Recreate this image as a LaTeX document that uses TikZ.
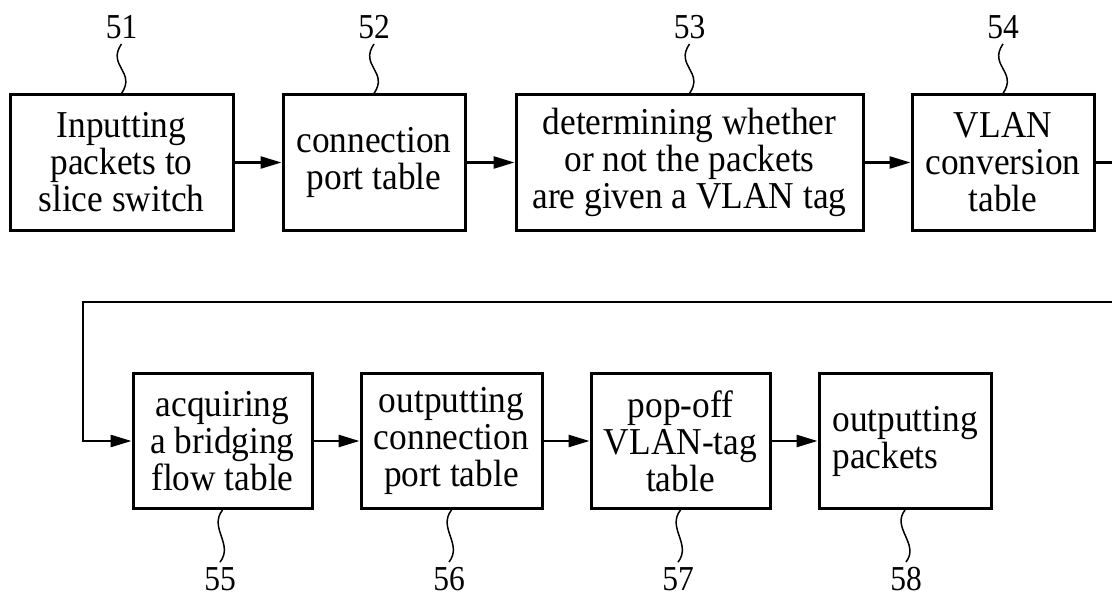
\documentclass[tikz,border=0pt]{standalone}
\usepackage{fontspec}
\setmainfont{Liberation Serif}
\newfontfamily\boxfont{Liberation Serif}[FakeStretch=0.93]
\newfontfamily\numfont{Liberation Serif}[FakeStretch=0.9]
\usetikzlibrary{arrows.meta}
\begin{document}
\begin{tikzpicture}[x=1pt,y=-1pt,
  stepbox/.style={draw, line width=3pt, inner sep=0pt, minimum height=135pt,
    align=center, font=\boxfont\fontsize{38}{37}\selectfont},
  reflabel/.style={inner sep=5pt, font=\numfont\fontsize{35}{36}\selectfont},
  flow/.style={line width=2.5pt, -{Triangle[length=21pt,width=12pt]}},
  wire/.style={line width=2.5pt},
  lead/.style={line width=1.5pt},
]
\useasboundingbox (0,0) rectangle (1112,599);

% upper row
\node[stepbox, minimum width=223pt] (b51) at (121.5,162.5) {Inputting\\packets to\\slice switch};
\node[stepbox, minimum width=182pt] (b52) at (374,162.5) {connection\\port table};
\node[stepbox, minimum width=347pt] (b53) at (689.5,162.5) {determining whether\\or not the packets\\are given a VLAN tag};
\node[stepbox, minimum width=182pt] (b54) at (1003,162.5) {VLAN\\conversion\\table};

% lower row
\node[stepbox, minimum width=179pt] (b55) at (222.5,441) {acquiring\\a bridging\\flow table};
\node[stepbox, minimum width=181pt] (b56) at (451.5,441) {outputting\\connection\\port table};
\node[stepbox, minimum width=179pt] (b57) at (680.5,441) {pop-off\\VLAN-tag\\table};
\node[stepbox, minimum width=172pt, align=left] (b58) at (905,441) {outputting\\packets};

% reference numerals
\node[reflabel] (l51) at (121.5,27) {51};
\node[reflabel] (l52) at (374,27) {52};
\node[reflabel] (l53) at (689.5,27) {53};
\node[reflabel] (l54) at (1003,27) {54};
\node[reflabel] (l55) at (220,579) {55};
\node[reflabel] (l56) at (449,579) {56};
\node[reflabel] (l57) at (678,579) {57};
\node[reflabel] (l58) at (906,579) {58};

% wavy leader lines
\foreach \n in {51,52,53,54}
  \draw[lead] (b\n.north) .. controls +(15,-22) and +(-15,22) .. (l\n.south);
\foreach \n in {55,56,57,58}
  \draw[lead] (b\n.south) .. controls +(-14,18) and +(14,-18) .. (l\n.north);

% flow connectors
\draw[flow] (b51) -- (b52);
\draw[flow] (b52) -- (b53);
\draw[flow] (b53) -- (b54);

\coordinate (outR) at (1112,162.5);
\coordinate (inR) at (1112,302);
\coordinate (turn) at (83,302);
\draw[wire] (b54.east) -- (outR);
\draw[flow] (inR) -- (turn) |- (b55.west);

\draw[flow] (b55) -- (b56);
\draw[flow] (b56) -- (b57);
\draw[flow] (b57) -- (b58);
\end{tikzpicture}
\end{document}
